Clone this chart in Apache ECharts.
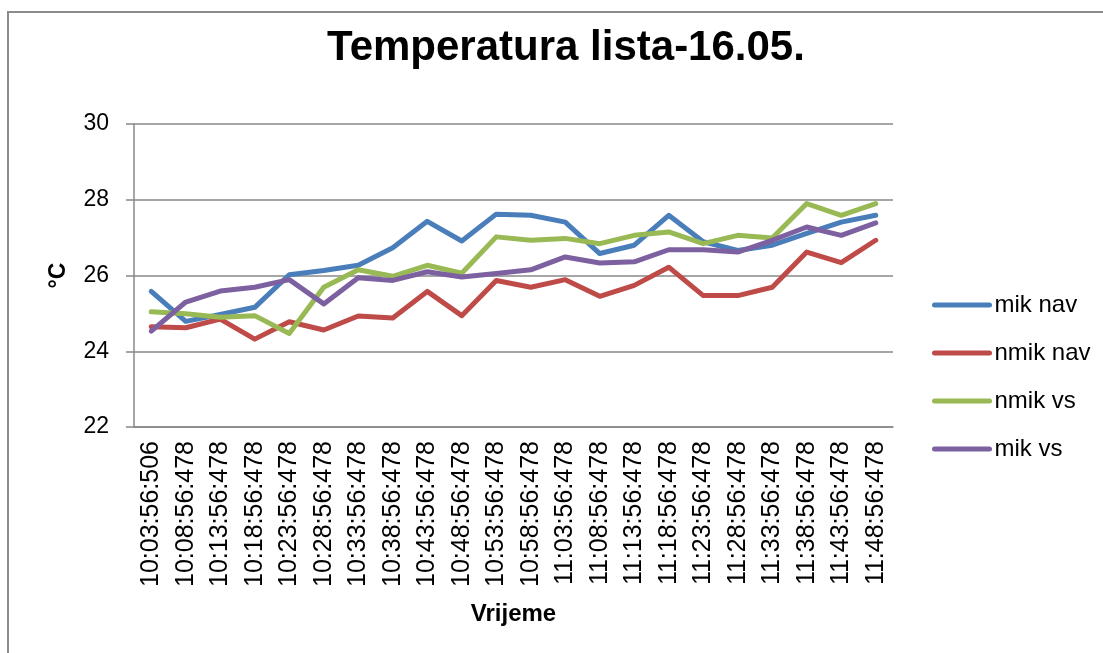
<!DOCTYPE html>
<html>
<head>
<meta charset="utf-8">
<script src="https://cdn.jsdelivr.net/npm/echarts@6/dist/echarts.min.js"></script>
<style>
html, body { margin: 0; padding: 0; background: #fff; }
#chart { width: 1103px; height: 653px; }
</style>
</head>
<body>
<div id="chart"></div>
<script>
const times = ['10:03:56:506', '10:08:56:478', '10:13:56:478', '10:18:56:478', '10:23:56:478', '10:28:56:478',
    '10:33:56:478', '10:38:56:478', '10:43:56:478', '10:48:56:478', '10:53:56:478', '10:58:56:478',
    '11:03:56:478', '11:08:56:478', '11:13:56:478', '11:18:56:478', '11:23:56:478', '11:28:56:478',
    '11:33:56:478', '11:38:56:478', '11:43:56:478', '11:48:56:478'];
const mikNav = [25.58, 24.79, 24.97, 25.16, 26.02, 26.13, 26.27, 26.73, 27.43, 26.91, 27.62, 27.59,
    27.41, 26.58, 26.80, 27.59, 26.89, 26.66, 26.80, 27.11, 27.41, 27.59];
const nmikNav = [24.65, 24.62, 24.85, 24.32, 24.78, 24.56, 24.93, 24.88, 25.58, 24.94, 25.87, 25.69,
    25.89, 25.45, 25.74, 26.22, 25.47, 25.47, 25.69, 26.62, 26.34, 26.93];
const nmikVs = [25.04, 24.99, 24.90, 24.94, 24.47, 25.69, 26.15, 25.98, 26.27, 26.06, 27.02, 26.93,
    26.98, 26.84, 27.06, 27.15, 26.84, 27.06, 26.99, 27.90, 27.59, 27.90];
const mikVs = [24.53, 25.30, 25.59, 25.69, 25.89, 25.25, 25.94, 25.87, 26.10, 25.96, 26.05, 26.15,
    26.49, 26.33, 26.36, 26.68, 26.68, 26.62, 26.93, 27.28, 27.06, 27.39];

const font = 'Liberation Sans';

let chart = echarts.init(document.getElementById('chart'));

function line(name, data, color) {
    return {
        name: name,
        type: 'line',
        data: data,
        symbol: 'none',
        color: color,
        lineStyle: { width: 5, color: color, cap: 'round', join: 'round' }
    };
}

let option = {
    animation: false,
    textStyle: { fontFamily: font },
    graphic: [{
        type: 'rect',
        shape: { x: 8, y: 12, width: 1200, height: 800 },
        style: { fill: 'none', stroke: '#8c8c8c', lineWidth: 2 },
        silent: true
    }],
    title: {
        text: 'Temperatura lista-16.05.',
        left: 561,
        textAlign: 'center',
        top: 22,
        textStyle: { fontFamily: font, fontSize: 42, fontWeight: 'bold', color: '#000' }
    },
    legend: {
        orient: 'vertical',
        left: 927,
        top: 288,
        itemWidth: 55,
        itemHeight: 20,
        itemGap: 24,
        itemStyle: { opacity: 0 },
        lineStyle: { width: 5, cap: 'round' },
        textStyle: { fontFamily: font, fontSize: 24, color: '#000' },
        data: ['mik nav', 'nmik nav', 'nmik vs', 'mik vs']
    },
    grid: { left: 134, right: 210, top: 124, bottom: 226 },
    xAxis: {
        type: 'category',
        data: times,
        boundaryGap: true,
        name: 'Vrijeme',
        nameLocation: 'middle',
        nameGap: 175,
        nameTextStyle: { fontFamily: font, fontSize: 24, fontWeight: 'bold', color: '#000' },
        axisLine: { lineStyle: { color: '#888', width: 1.5 } },
        axisTick: { interval: 2, length: 9, lineStyle: { color: '#888', width: 1.5 } },
        axisLabel: { interval: 0, rotate: 90, margin: 14, fontFamily: font, fontSize: 25, color: '#000' }
    },
    yAxis: {
        type: 'value',
        min: 22,
        max: 30,
        interval: 2,
        name: '°C',
        nameLocation: 'middle',
        nameGap: 64,
        nameTextStyle: { fontFamily: font, fontSize: 23, fontWeight: 'bold', color: '#000' },
        axisLine: { show: true, lineStyle: { color: '#888', width: 1.5 } },
        axisTick: { show: true, length: 8, lineStyle: { color: '#888', width: 1.5 } },
        axisLabel: { margin: 25, fontFamily: font, fontSize: 23, color: '#000' },
        splitLine: { lineStyle: { color: '#888', width: 1.5 } }
    },
    series: [
        line('mik nav', mikNav, '#4A7EBB'),
        line('nmik nav', nmikNav, '#BE4B48'),
        line('nmik vs', nmikVs, '#98B954'),
        line('mik vs', mikVs, '#7D60A0')
    ]
};
chart.setOption(option);

window.addEventListener('resize', () => {
    chart.resize()
})
</script>
</body>
</html>
